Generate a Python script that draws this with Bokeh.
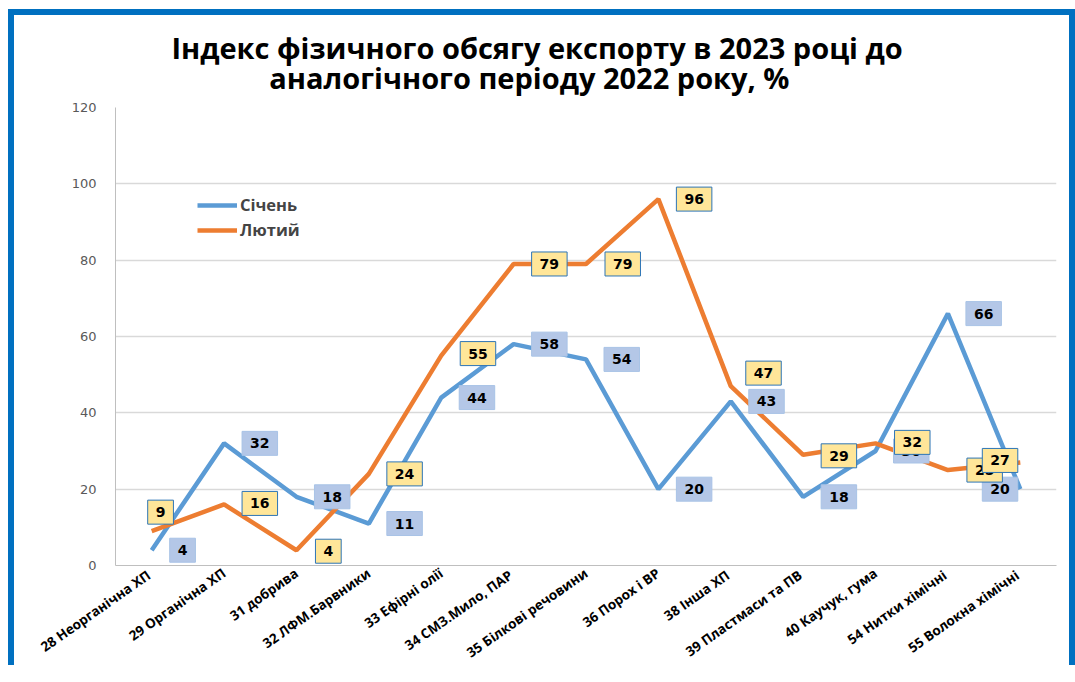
import math
from bokeh.plotting import figure
from bokeh.models import (ColumnDataSource, Legend, LegendItem, Title,
                          FactorRange, SingleIntervalTicker)
from bokeh.core.properties import value
from bokeh.embed import file_html
from bokeh.resources import INLINE

# ---- data ----
categories = ["28  Неорганічна ХП", "29 Органічна ХП", "31 добрива",
              "32 ЛФМ.Барвники", "33 Ефірні олії", "34  СМЗ.Мило, ПАР",
              "35 Білкові речовини", "36 Порох і ВР", "38  Інша ХП",
              "39  Пластмаси та ПВ", "40 Каучук, гума", "54 Нитки  хімічні",
              "55  Волокна хімічні"]
sichen = [4, 32, 18, 11, 44, 58, 54, 20, 43, 18, 30, 66, 20]
lyutyi = [9, 16, 4, 24, 55, 79, 79, 96, 47, 29, 32, 25, 27]
series_names = ["Січень", "Лютий"]
title_lines = ["Індекс фізичного обсягу  експорту в 2023 році до",
               "аналогічного  періоду 2022 року, %"]

# ---- label placement (styles, px; dy positive = up) ----
PAD_X = 8
sichen_box_dx = [10] * 12 + [-46]
sichen_box_dy = [0] * 13
lyutyi_box_dx = [-12, 10, 11, 10, 11, 10, 11, 10, 7, 10, 11, 11, -46]
lyutyi_box_dy = [19, 1, -1, 0, 2, 0, 0, 0, 13, -1, 1, 0, 2]
NB = "\u00a0"   # non-breaking spaces used to place the centred title lines
title_text = title_lines[0] + NB * 12 + "\n" + NB * 13 + title_lines[1]

src = ColumnDataSource(dict(
    cat=categories, s=sichen, l=lyutyi,
    s_lbl=[str(v) for v in sichen], l_lbl=[str(v) for v in lyutyi],
    s_xo=[d + PAD_X for d in sichen_box_dx], s_yo=[-d for d in sichen_box_dy],
    l_xo=[d + PAD_X for d in lyutyi_box_dx], l_yo=[-d for d in lyutyi_box_dy],
))

p = figure(x_range=FactorRange(*categories), y_range=(0, 120),
           width=1055, height=650, output_backend="svg", toolbar_location=None,
           min_border_left=101, min_border_right=25, min_border_top=92,
           min_border_bottom=104)
p.styles = {"box-sizing": "content-box",
            "border-left": "6px solid #0070C0", "border-top": "6px solid #0070C0",
            "border-right": "6px solid #0070C0", "margin-left": "8px",
            "margin-top": "9px", "overflow": "hidden"}
p.background_fill_color = "white"
p.border_fill_color = "white"
p.outline_line_color = None

p.xgrid.grid_line_color = None
p.ygrid.grid_line_color = "#D9D9D9"
p.ygrid.grid_line_width = 1.5

p.yaxis.ticker = SingleIntervalTicker(interval=20)
p.yaxis.axis_line_color = "#BFBFBF"
p.yaxis.major_tick_line_color = None
p.yaxis.minor_tick_line_color = None
p.yaxis.major_tick_out = 0
p.yaxis.major_label_standoff = 15
p.yaxis.major_label_text_font = "DejaVu Sans"
p.yaxis.major_label_text_font_size = "13px"
p.yaxis.major_label_text_color = "#595959"

p.xaxis.axis_line_color = "#BFBFBF"
p.xaxis.major_tick_line_color = None
p.xaxis.major_tick_out = 0
p.xaxis.major_label_orientation = math.radians(35)
p.xaxis.major_label_standoff = 6
p.xaxis.major_label_text_font = "Open Sans"
p.xaxis.major_label_text_font_style = "bold"
p.xaxis.major_label_text_font_size = "13.5px"
p.xaxis.major_label_text_color = "#000000"

r1 = p.line(x="cat", y="s", source=src, line_color="#5B9BD5", line_width=4.5)
r2 = p.line(x="cat", y="l", source=src, line_color="#ED7D31", line_width=4.5)

common = dict(text_align="left", text_baseline="middle",
              text_font=value("DejaVu Sans"), text_font_style="bold",
              text_font_size="14px", text_color="#000000", padding=(PAD_X, 7))
p.text(x="cat", y="s", text="s_lbl", source=src, x_offset="s_xo", y_offset="s_yo",
       background_fill_color="#B4C7E7", border_line_color="#A8C3E6",
       border_line_width=1, **common)
p.text(x="cat", y="l", text="l_lbl", source=src, x_offset="l_xo", y_offset="l_yo",
       background_fill_color="#FFE699", border_line_color="#2E75B6",
       border_line_width=1, **common)

legend = Legend(items=[LegendItem(label=series_names[0], renderers=[r1]),
                       LegendItem(label=series_names[1], renderers=[r2])],
                location=(82, 324), glyph_width=40, glyph_height=20,
                label_height=20, spacing=2, padding=0, margin=0,
                border_line_color=None, background_fill_alpha=0,
                label_text_font="Open Sans", label_text_font_style="bold",
                label_text_font_size="16.5px", label_standoff=3)
p.add_layout(legend, "center")

p.add_layout(Title(text=title_text, align="center", standoff=20,
                   text_font="Open Sans", text_font_style="bold",
                   text_font_size="29px", text_line_height=0.79,
                   text_color="#000000"), "above")

open("out.html", "w").write(file_html(p, INLINE))
